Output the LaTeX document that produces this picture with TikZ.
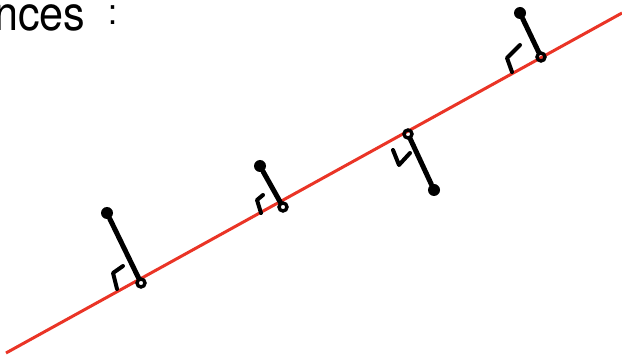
\documentclass[tikz,border=0pt]{standalone}
\usepackage{fontspec}
\setmainfont{TeX Gyre Heros}
\definecolor{penred}{RGB}{234,52,38}
\begin{document}
\begin{tikzpicture}[x=1pt,y=-1pt,
  pt/.style={circle,fill=black,inner sep=0pt,minimum size=12pt},
  foot/.style={circle,draw=black,line width=3.4pt,inner sep=0pt,minimum size=8pt},
  seg/.style={black,line width=5pt,line cap=round},
  rmark/.style={black,line width=4pt,line cap=round,line join=round},
  fitline/.style={penred,line width=3pt}]
\useasboundingbox (0,0) rectangle (622,358);
\clip (0,0) rectangle (622,358);
\coordinate (L1) at (6,353);
\coordinate (L2) at (622,13);
\draw[fitline] (L1) -- (L2);
\node[anchor=base west,inner sep=0pt,xscale=0.9,font=\fontsize{48}{48}\selectfont] (title) at (-6,31) {nces\hspace{26pt}\raisebox{6pt}{\fontsize{36}{36}\selectfont :}};
% point 1
\node[pt] (p1) at (107,213) {};
\node[foot] (f1) at (141,283) {};
\draw[seg] (p1) -- (f1);
\draw[rmark] (123,266) -- (113,273) -- (117,289);
% point 2
\node[pt] (p2) at (260,166) {};
\node[foot] (f2) at (283,207) {};
\draw[seg] (p2) -- (f2);
\draw[rmark] (263,195) -- (257,200) -- (261,213);
% point 3
\node[foot] (f3) at (408,134) {};
\node[pt] (p3) at (434,190) {};
\draw[seg] (f3) -- (p3);
\draw[rmark] (393,150) -- (399,165) -- (410,153);
% point 4
\node[pt] (p4) at (520,13) {};
\node[foot] (f4) at (541,57) {};
\draw[seg] (p4) -- (f4);
\draw[rmark] (520,45) -- (507,58) -- (512,72);
\end{tikzpicture}
\end{document}
